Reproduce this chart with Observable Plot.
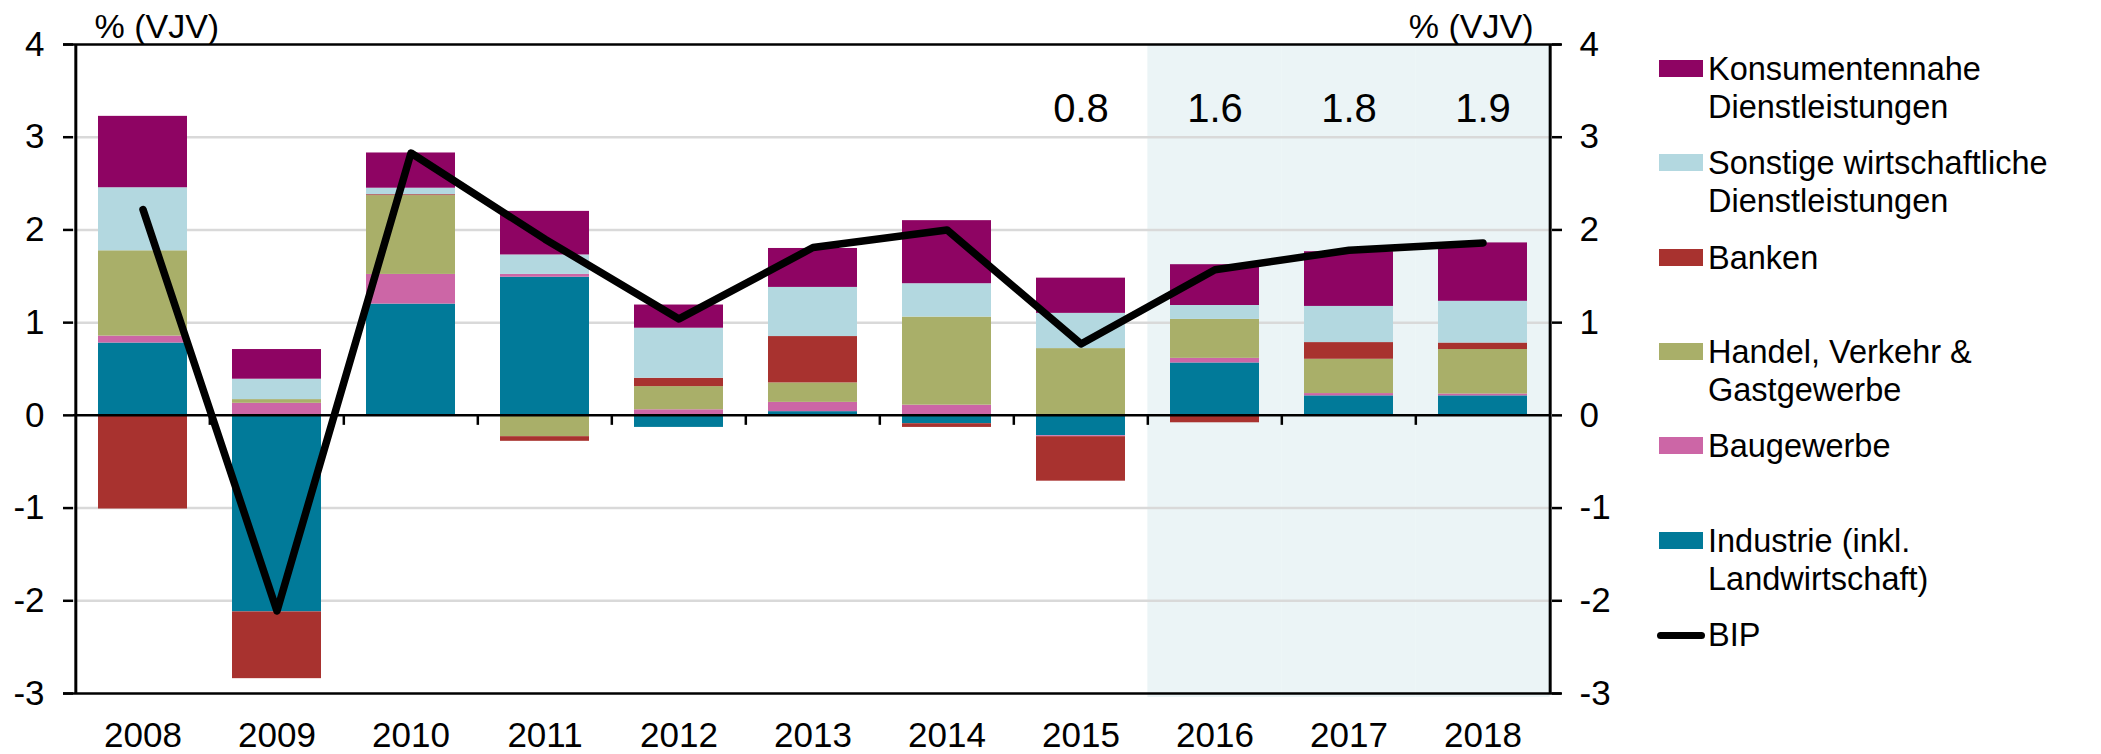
<!DOCTYPE html>
<html>
<head>
<meta charset="utf-8">
<script src="https://cdn.jsdelivr.net/npm/d3@7"></script>
<script src="https://cdn.jsdelivr.net/npm/@observablehq/plot@0.6"></script>
<style>
  html, body { margin: 0; padding: 0; background: #fff; }
  #wrap { position: relative; width: 2101px; height: 754px; font-family: "Liberation Sans", Arial, sans-serif; }
  #chart { position: absolute; left: 0; top: 0; }
  #legend { position: absolute; left: 1640px; top: 0; width: 461px; height: 754px; }
  .item { position: absolute; left: 19px; font-size: 32.5px; line-height: 38px; color: #000; }
  .key { position: absolute; left: 0; top: 10px; width: 44px; height: 17px; }
  .keyline { position: absolute; left: -2px; top: 16px; width: 48px; height: 7px; background: #000; border-radius: 3.5px; }
  .lab { position: absolute; left: 49px; top: 0; white-space: nowrap; }
</style>
</head>
<body>
<div id="wrap">
  <div id="chart"></div>
  <div id="legend"></div>
</div>
<script>
// ---- data ----
const years = ["2008","2009","2010","2011","2012","2013","2014","2015","2016","2017","2018"];
const industrie  = [0.78, -2.12, 1.20, 1.49, -0.13, 0.04, -0.09, -0.22, 0.565, 0.21, 0.21];
const baugewerbe = [0.075, 0.13, 0.32, 0.03, 0.06, 0.10, 0.11, -0.01, 0.05, 0.025, 0.02];
const handel     = [0.92, 0.04, 0.85, -0.23, 0.25, 0.21, 0.95, 0.72, 0.42, 0.37, 0.48];
const banken     = [-1.01, -0.72, 0.01, -0.05, 0.09, 0.50, -0.04, -0.48, -0.08, 0.18, 0.07];
const sonstige   = [0.68, 0.22, 0.07, 0.21, 0.54, 0.53, 0.36, 0.38, 0.15, 0.39, 0.45];
const konsum     = [0.77, 0.32, 0.38, 0.47, 0.25, 0.42, 0.68, 0.38, 0.44, 0.59, 0.63];
const bip        = [2.22, -2.11, 2.83, 1.90, 1.04, 1.81, 2.00, 0.77, 1.57, 1.78, 1.86];
const forecastYears = ["2016","2017","2018"];
const annoYears  = ["2015","2016","2017","2018"];
const annoLabels = ["0.8","1.6","1.8","1.9"];
const annoLevel = 3.3;
const yTicks = [-3, -2, -1, 0, 1, 2, 3, 4];
const unitLabel = "% (VJV)";

const seriesNames = [
  "Industrie (inkl. Landwirtschaft)",
  "Baugewerbe",
  "Handel, Verkehr & Gastgewerbe",
  "Banken",
  "Sonstige wirtschaftliche Dienstleistungen",
  "Konsumentennahe Dienstleistungen"
];
const seriesValues = [industrie, baugewerbe, handel, banken, sonstige, konsum];
const seriesColors = ["#017a99", "#cc66a6", "#a9af69", "#a8322f", "#b3d8e0", "#8e0463"];

// ---- tidy table ----
const rows = [];
seriesNames.forEach((s, i) => years.forEach((y, j) => rows.push({year: y, series: s, value: seriesValues[i][j]})));
const bipRows = years.map((y, j) => ({year: y, value: bip[j]}));
const annoRows = annoYears.map((y, j) => ({year: y, label: annoLabels[j], level: annoLevel}));

// ---- layout ----
const W = 1640, H = 754;
const mL = 73, mR = W - 1551, mT = 44, mB = H - 693;
const pInner = 0.337;
const step = (W - mL - mR) / years.length;
const gap = step * pInner;

const font = '"Liberation Sans", Arial, sans-serif';

const plot = Plot.plot({
  width: W,
  height: H,
  marginLeft: mL,
  marginRight: mR,
  marginTop: mT,
  marginBottom: mB,
  style: {fontFamily: font, fontSize: "35px", color: "#000", background: "transparent", overflow: "visible"},
  x: {domain: years, paddingInner: pInner, paddingOuter: pInner / 2, axis: null},
  y: {domain: [-3, 4], axis: null},
  color: {domain: seriesNames, range: seriesColors},
  marks: [
    // forecast shading
    Plot.barY(forecastYears, {x: d => d, y1: -3, y2: 4, fill: "#ebf4f6", insetLeft: -gap / 2, insetRight: -gap / 2, insetBottom: -4}),
    // gridlines
    Plot.ruleY(yTicks.filter(d => d !== 0 && d !== 4 && d !== -3), {stroke: "#d9d9d9", strokeWidth: 2.5}),
    // stacked bars
    Plot.barY(rows, Plot.stackY({x: "year", y: "value", fill: "series", order: seriesNames})),
    // frame lines
    Plot.ruleY([4, -3], {stroke: "#000", strokeWidth: 2.5, insetLeft: -10, insetRight: -10}),
    Plot.ruleY([0], {stroke: "#000", strokeWidth: 2.5}),
    Plot.ruleX(years.slice(1), {x: d => d, y1: 0, y2: 0, dx: -step / 2, insetBottom: -10, stroke: "#000", strokeWidth: 2.5}),
    // axes
    Plot.axisY(yTicks, {anchor: "left", tickSize: 10, tickPadding: 19, tickFormat: d => String(d), strokeWidth: 2.5, label: null, fontSize: 35}),
    Plot.axisY(yTicks, {anchor: "right", tickSize: 10, tickPadding: 18, tickFormat: d => String(d), strokeWidth: 2.5, label: null, fontSize: 35}),
    Plot.ruleX([0], {x: () => years[0], dx: -step / 2, y1: -3, y2: 4, stroke: "#000", strokeWidth: 3}),
    Plot.ruleX([0], {x: () => years[years.length - 1], dx: step / 2, y1: -3, y2: 4, stroke: "#000", strokeWidth: 3}),
    Plot.axisX(years, {anchor: "bottom", tickSize: 0, tickPadding: 29, fontSize: 35, label: null}),
    // BIP line
    Plot.line(bipRows, {x: "year", y: "value", stroke: "#000", strokeWidth: 7.5, strokeLinejoin: "round", strokeLinecap: "round"}),
    // annotations
    Plot.text(annoRows, {x: "year", y: "level", text: "label", fontSize: 40, fill: "#000"}),
    // unit labels
    Plot.text([unitLabel], {frameAnchor: "top-left", dx: 21, dy: -31, textAnchor: "start", fontSize: 34, fill: "#000"}),
    Plot.text([unitLabel], {frameAnchor: "top-right", dx: -18, dy: -31, textAnchor: "end", fontSize: 34, fill: "#000"})
  ]
});
document.getElementById("chart").appendChild(plot);

// ---- legend (HTML, to the right of the chart) ----
const legendItems = [
  {name: "Konsumentennahe\nDienstleistungen", color: seriesColors[5]},
  {name: "Sonstige wirtschaftliche\nDienstleistungen", color: seriesColors[4]},
  {name: "Banken", color: seriesColors[3]},
  {name: "Handel, Verkehr &\nGastgewerbe", color: seriesColors[2]},
  {name: "Baugewerbe", color: seriesColors[1]},
  {name: "Industrie (inkl.\nLandwirtschaft)", color: seriesColors[0]},
  {name: "BIP", color: "#000", line: true}
];
const legendEl = document.getElementById("legend");
legendItems.forEach((it, i) => {
  const d = document.createElement("div");
  d.className = "item";
  d.style.top = (69 + i * 94.3 - 19) + "px";
  const k = document.createElement("div");
  k.className = it.line ? "keyline" : "key";
  if (!it.line) k.style.background = it.color;
  d.appendChild(k);
  const t = document.createElement("div");
  t.className = "lab";
  t.innerHTML = it.name.split("\n").join("<br>");
  d.appendChild(t);
  legendEl.appendChild(d);
});
</script>
</body>
</html>
